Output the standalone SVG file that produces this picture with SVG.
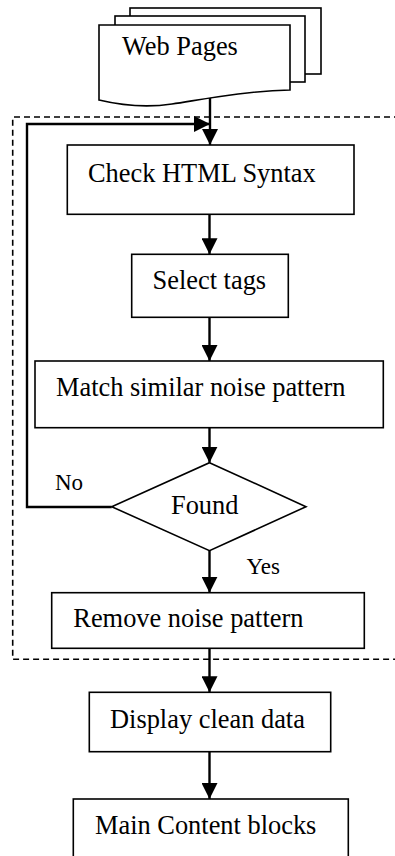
<svg xmlns="http://www.w3.org/2000/svg" width="395" height="856" viewBox="0 0 395 856">
  <defs>
    <style>
      .box { fill: #fff; stroke: #000; stroke-width: 1.6; }
      .page { fill: #fff; stroke: #000; stroke-width: 1.6; stroke-linejoin: miter; }
      .edge { fill: none; stroke: #000; stroke-width: 2.4; }
      .frame { fill: none; stroke: #000; stroke-width: 1.6; stroke-dasharray: 6 4; }
      .lbl { font-family: "Liberation Serif", "Times New Roman", serif; font-size: 26.4px; fill: #000; }
      .small { font-family: "Liberation Serif", "Times New Roman", serif; font-size: 23px; fill: #000; }
    </style>
    <marker id="arrow" viewBox="0 0 16 16" refX="16" refY="8" markerWidth="16" markerHeight="16" markerUnits="userSpaceOnUse" orient="auto">
      <path d="M0,0 L16,8 L0,16 Z" fill="#000"/>
    </marker>
  </defs>

  <!-- dashed boundary of the cleaning stage -->
  <g id="stage-frame">
    <path class="frame" d="M400,117 H12.7 V659.3 H400"/>
  </g>

  <!-- connectors -->
  <g id="connectors">
    <line class="edge" x1="210" y1="96" x2="210" y2="145" marker-end="url(#arrow)"/>
    <polyline class="edge" points="111.7,507 27,507 27,124 210,124" marker-end="url(#arrow)"/>
    <line class="edge" x1="209.5" y1="214.3" x2="209.5" y2="254.3" marker-end="url(#arrow)"/>
    <line class="edge" x1="209.5" y1="317.3" x2="209.5" y2="361" marker-end="url(#arrow)"/>
    <line class="edge" x1="209.5" y1="427.7" x2="209.5" y2="462.7" marker-end="url(#arrow)"/>
    <line class="edge" x1="209.5" y1="550.7" x2="209.5" y2="592.7" marker-end="url(#arrow)"/>
    <line class="edge" x1="209.5" y1="648.3" x2="209.5" y2="692.3" marker-end="url(#arrow)"/>
    <line class="edge" x1="209.5" y1="751.7" x2="209.5" y2="799" marker-end="url(#arrow)"/>
    <text class="small" x="55" y="490">No</text>
    <text class="small" x="246.5" y="574">Yes</text>
  </g>

  <!-- input documents -->
  <g id="web-pages">
    <rect class="page" x="130" y="8" width="191" height="66"/>
    <rect class="page" x="115" y="16" width="190" height="66"/>
    <path class="page" d="M99,25 H290 V90 C245,91 205,99 172,104 C145,108 120,105 99,100 Z"/>
    <text class="lbl" x="122" y="55">Web Pages</text>
  </g>

  <g id="check-html">
    <rect class="box" x="67.3" y="145" width="286.7" height="69.3"/>
    <text class="lbl" x="88" y="182">Check HTML Syntax</text>
  </g>

  <g id="select-tags">
    <rect class="box" x="131.7" y="254.3" width="156.6" height="63"/>
    <text class="lbl" x="152.5" y="289">Select tags</text>
  </g>

  <g id="match-pattern">
    <rect class="box" x="35" y="361" width="348.3" height="66.7"/>
    <text class="lbl" x="56" y="396">Match similar noise pattern</text>
  </g>

  <g id="found">
    <polygon class="box" points="209.5,462.7 306,506.7 209.5,550.7 111.7,506.7"/>
    <text class="lbl" x="171" y="514">Found</text>
  </g>

  <g id="remove-pattern">
    <rect class="box" x="51.7" y="592.7" width="312.6" height="55.6"/>
    <text class="lbl" x="73.3" y="627">Remove noise pattern</text>
  </g>

  <g id="display-data">
    <rect class="box" x="89.3" y="692.3" width="241.4" height="59.4"/>
    <text class="lbl" x="110" y="728">Display clean data</text>
  </g>

  <g id="main-content">
    <rect class="box" x="73.3" y="799" width="275" height="70"/>
    <text class="lbl" x="95" y="834">Main Content blocks</text>
  </g>
</svg>
